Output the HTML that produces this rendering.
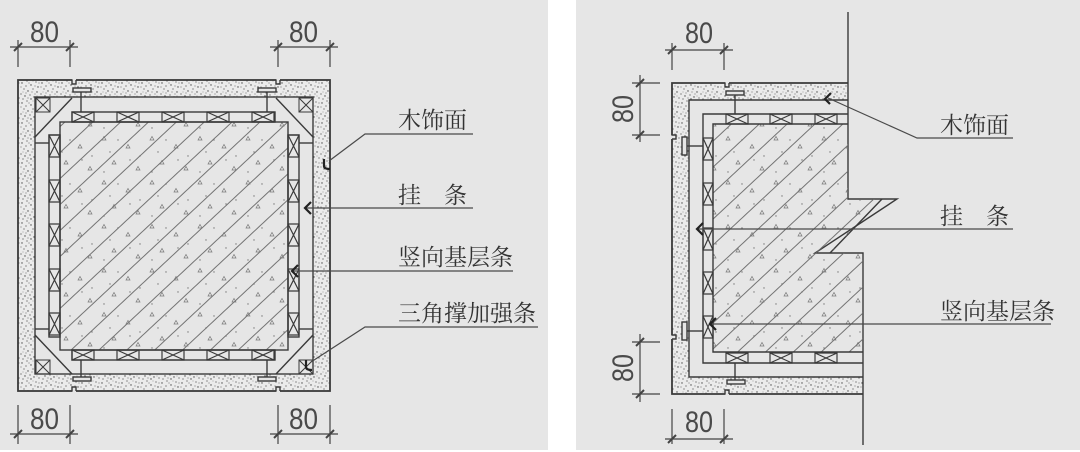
<!DOCTYPE html>
<html>
<head>
<meta charset="utf-8">
<style>
html,body{margin:0;padding:0;background:#fff;}
svg{display:block;}
.lab{font-family:"Liberation Serif","Noto Serif CJK SC",serif;font-size:23px;fill:#333;}
.num{font-family:"Liberation Sans",sans-serif;font-size:30px;fill:#4a4a4a;}
</style>
</head>
<body>
<svg width="1080" height="452" viewBox="0 0 1080 452" xmlns="http://www.w3.org/2000/svg">
<defs>
  <pattern id="st" width="20" height="20" patternUnits="userSpaceOnUse">
    <rect width="20" height="20" fill="#ebebeb"/>
    <g fill="#4a4a4a">
      <circle cx="2" cy="3" r="0.7"/><circle cx="7" cy="1" r="0.6"/><circle cx="11" cy="5" r="0.7"/>
      <circle cx="16" cy="2" r="0.6"/><circle cx="18" cy="7" r="0.7"/><circle cx="4" cy="9" r="0.6"/>
      <circle cx="8" cy="11" r="0.7"/><circle cx="13" cy="9" r="0.6"/><circle cx="17" cy="12" r="0.7"/>
      <circle cx="1" cy="14" r="0.6"/><circle cx="5" cy="16" r="0.7"/><circle cx="10" cy="15" r="0.6"/>
      <circle cx="14" cy="17" r="0.7"/><circle cx="19" cy="18" r="0.6"/><circle cx="3" cy="19" r="0.6"/>
      <circle cx="11" cy="19" r="0.7"/><circle cx="15" cy="6" r="0.5"/><circle cx="6" cy="6" r="0.6"/>
      <circle cx="12" cy="12" r="0.5"/><circle cx="8" cy="18" r="0.5"/><circle cx="1" cy="7" r="0.5"/>
      <circle cx="19" cy="3" r="0.5"/><circle cx="6" cy="13" r="0.5"/><circle cx="15" cy="14" r="0.5"/>
      <circle cx="17" cy="16" r="0.4"/><circle cx="9" cy="3" r="0.5"/><circle cx="3" cy="12" r="0.4"/>
      <circle cx="13" cy="1" r="0.4"/>
    </g>
  </pattern>
  <pattern id="hl" width="19" height="19" patternUnits="userSpaceOnUse" patternTransform="rotate(47)">
    <line x1="0.5" y1="0" x2="0.5" y2="19" stroke="#666" stroke-width="0.9"/>
  </pattern>
  <pattern id="tri" width="48" height="44" patternUnits="userSpaceOnUse">
    <g fill="none" stroke="#777" stroke-width="0.7">
      <path d="M6,8 l2,-3.5 l2,3.5z"/><path d="M30,16 l2,-3.5 l2,3.5z"/>
      <path d="M16,32 l2,-3.5 l2,3.5z"/><path d="M40,38 l2,-3.5 l2,3.5z"/>
    </g>
    <g fill="#777">
      <circle cx="22" cy="8" r="0.7"/><circle cx="44" cy="24" r="0.7"/><circle cx="8" cy="40" r="0.7"/>
      <circle cx="34" cy="28" r="0.7"/><circle cx="14" cy="20" r="0.7"/>
    </g>
  </pattern>
</defs>

<!-- panels -->
<rect x="0" y="0" width="548" height="450" fill="#e6e6e6"/>
<rect x="576" y="0" width="504" height="450" fill="#e6e6e6"/>

<!-- ================= LEFT FIGURE ================= -->
<g stroke="#3a3a3a" stroke-width="1.4" fill="none">
  <path d="M18,80 H330 V391 H18 Z M35,97 V374 H313 V97 Z" fill="url(#st)" fill-rule="evenodd" stroke="none"/>
  <rect x="18" y="80" width="312" height="311" stroke-width="1.8"/>
  <rect x="35" y="97" width="278" height="277"/>
  <rect x="72.5" y="78" width="3.5" height="5" fill="#e6e6e6" stroke="none"/>
  <path d="M72,80 V84 H76 V80"/>
  <rect x="276.5" y="78" width="3.5" height="5" fill="#e6e6e6" stroke="none"/>
  <path d="M276,80 V84 H280 V80"/>
  <rect x="72.5" y="388" width="3.5" height="5" fill="#e6e6e6" stroke="none"/>
  <path d="M72,391 V387 H76 V391"/>
  <rect x="276.5" y="388" width="3.5" height="5" fill="#e6e6e6" stroke="none"/>
  <path d="M276,391 V387 H280 V391"/>
  <rect x="73" y="88" width="18" height="4" fill="#e6e6e6"/>
  <line x1="81" y1="92" x2="81" y2="112"/>
  <rect x="258" y="88" width="18" height="4" fill="#e6e6e6"/>
  <line x1="267" y1="92" x2="267" y2="112"/>
  <rect x="73" y="377" width="18" height="4" fill="#e6e6e6"/>
  <line x1="81" y1="360" x2="81" y2="377"/>
  <rect x="258" y="377" width="18" height="4" fill="#e6e6e6"/>
  <line x1="267" y1="360" x2="267" y2="377"/>
  <line x1="72" y1="98" x2="35" y2="137"/>
  <line x1="35" y1="143" x2="49" y2="143"/>
  <line x1="276" y1="98" x2="313" y2="137"/>
  <line x1="299" y1="143" x2="313" y2="143"/>
  <line x1="35" y1="335" x2="72" y2="374"/>
  <line x1="35" y1="329" x2="49" y2="329"/>
  <line x1="313" y1="335" x2="276" y2="374"/>
  <line x1="299" y1="329" x2="313" y2="329"/>
  <g stroke-width="1">
    <rect x="36" y="98" width="14" height="14"/><path d="M36,98 L50,112 M50,98 L36,112"/>
    <rect x="299" y="98" width="14" height="14"/><path d="M299,98 L313,112 M313,98 L299,112"/>
    <rect x="36" y="360" width="14" height="14"/><path d="M36,360 L50,374 M50,360 L36,374"/>
    <rect x="299" y="360" width="14" height="14"/><path d="M299,360 L313,374 M313,360 L299,374"/>
  </g>
  <rect x="60" y="122" width="228" height="228" fill="url(#hl)" stroke="none"/>
  <rect x="60" y="122" width="228" height="228" fill="url(#tri)" stroke="none"/>
  <rect x="60" y="122" width="228" height="228"/>
  <rect x="72" y="112" width="203" height="10"/>
  <rect x="72" y="350" width="203" height="10"/>
  <rect x="49" y="135" width="11" height="202"/>
  <rect x="288" y="135" width="11" height="202"/>
  <g stroke-width="1.2">
    <path d="M72,112 h22 v10 h-22z M72,112 l22,10 M94,112 l-22,10"/>
    <path d="M117,112 h22 v10 h-22z M117,112 l22,10 M139,112 l-22,10"/>
    <path d="M162,112 h22 v10 h-22z M162,112 l22,10 M184,112 l-22,10"/>
    <path d="M207,112 h22 v10 h-22z M207,112 l22,10 M229,112 l-22,10"/>
    <path d="M252,112 h22 v10 h-22z M252,112 l22,10 M274,112 l-22,10"/>
    <path d="M72,350 h22 v10 h-22z M72,350 l22,10 M94,350 l-22,10"/>
    <path d="M117,350 h22 v10 h-22z M117,350 l22,10 M139,350 l-22,10"/>
    <path d="M162,350 h22 v10 h-22z M162,350 l22,10 M184,350 l-22,10"/>
    <path d="M207,350 h22 v10 h-22z M207,350 l22,10 M229,350 l-22,10"/>
    <path d="M252,350 h22 v10 h-22z M252,350 l22,10 M274,350 l-22,10"/>
    <path d="M49,135 h11 v22 h-11z M49,135 l11,22 M60,135 l-11,22"/>
    <path d="M49,180 h11 v22 h-11z M49,180 l11,22 M60,180 l-11,22"/>
    <path d="M49,224 h11 v22 h-11z M49,224 l11,22 M60,224 l-11,22"/>
    <path d="M49,269 h11 v22 h-11z M49,269 l11,22 M60,269 l-11,22"/>
    <path d="M49,313 h11 v22 h-11z M49,313 l11,22 M60,313 l-11,22"/>
    <path d="M288,135 h11 v22 h-11z M288,135 l11,22 M299,135 l-11,22"/>
    <path d="M288,180 h11 v22 h-11z M288,180 l11,22 M299,180 l-11,22"/>
    <path d="M288,224 h11 v22 h-11z M288,224 l11,22 M299,224 l-11,22"/>
    <path d="M288,269 h11 v22 h-11z M288,269 l11,22 M299,269 l-11,22"/>
    <path d="M288,313 h11 v22 h-11z M288,313 l11,22 M299,313 l-11,22"/>
  </g>
</g>

<!-- left dimensions -->
<g stroke="#444" stroke-width="1.2" fill="none">
  <line x1="10" y1="47" x2="78" y2="47"/>
  <line x1="18" y1="40" x2="18" y2="67"/><line x1="70" y1="40" x2="70" y2="67"/>
  <line x1="270" y1="47" x2="338" y2="47"/>
  <line x1="278" y1="40" x2="278" y2="67"/><line x1="330" y1="40" x2="330" y2="67"/>
  <line x1="10" y1="434" x2="78" y2="434"/>
  <line x1="18" y1="405" x2="18" y2="444"/><line x1="70" y1="405" x2="70" y2="444"/>
  <line x1="270" y1="434" x2="338" y2="434"/>
  <line x1="278" y1="405" x2="278" y2="444"/><line x1="330" y1="405" x2="330" y2="444"/>
  <g stroke-width="2">
    <path d="M14,51 L22,43 M66,51 L74,43 M274,51 L282,43 M326,51 L334,43"/>
    <path d="M14,438 L22,430 M66,438 L74,430 M274,438 L282,430 M326,438 L334,430"/>
  </g>
</g>
<text class="num" x="30" y="42" textLength="29" lengthAdjust="spacingAndGlyphs">80</text>
<text class="num" x="289" y="42" textLength="29" lengthAdjust="spacingAndGlyphs">80</text>
<text class="num" x="30" y="429" textLength="29" lengthAdjust="spacingAndGlyphs">80</text>
<text class="num" x="289" y="429" textLength="29" lengthAdjust="spacingAndGlyphs">80</text>

<!-- left labels -->
<g stroke="#4a4a4a" stroke-width="1.2" fill="none">
  <path d="M473,134 H365 L329,161"/>
  <path d="M473,208 H306"/>
  <path d="M513,271 H293"/>
  <path d="M538,327 H365 L311,362"/>
</g>
<g stroke="#222" stroke-width="2.2" fill="none">
  <path d="M324,159 V166 Q324,169 330,169"/>
  <path d="M311,202 L305,208 L311,214"/>
  <path d="M298,265 L292,271 L298,277"/>
  <path d="M306,360 V367 Q306,370 312,370"/>
</g>
<text class="lab" x="398" y="128">木饰面</text>
<text class="lab" x="398" y="203">挂　条</text>
<text class="lab" x="398" y="265">竖向基层条</text>
<text class="lab" x="398" y="321">三角撑加强条</text>

<!-- ================= RIGHT FIGURE ================= -->
<g stroke="#3a3a3a" stroke-width="1.4" fill="none">
  <path d="M672,83 H848 V100 H689 V377 H863 V394 H672 Z" fill="url(#st)" stroke="none"/>
  <path d="M848,83 H672 V394 H863" stroke-width="1.8"/>
  <path d="M848,100 H689 V377 H863"/>
  <path d="M848,12 V199 H897 L815,253 H863 V445"/>
  <line x1="882" y1="199" x2="830" y2="253"/>
  <path d="M713,124 H848 V199 H882 L830,253 H863 V352 H713 Z" fill="url(#hl)" stroke="none"/>
  <path d="M713,124 H848 V199 H882 L830,253 H863 V352 H713 Z" fill="url(#tri)" stroke="none"/>
  <path d="M848,124 H713 V352 H863"/>
  <path d="M848,114 H703 V363 H863"/>
  <rect x="725.5" y="81" width="3.5" height="5" fill="#e6e6e6" stroke="none"/>
  <path d="M725,83 V87 H729 V83"/>
  <rect x="670" y="135.5" width="5" height="3.5" fill="#e6e6e6" stroke="none"/>
  <path d="M672,135 H676 V139 H672"/>
  <rect x="670" y="335.5" width="5" height="3.5" fill="#e6e6e6" stroke="none"/>
  <path d="M672,335 H676 V339 H672"/>
  <rect x="725.5" y="391" width="3.5" height="5" fill="#e6e6e6" stroke="none"/>
  <path d="M725,394 V390 H729 V394"/>
  <rect x="726" y="91" width="18" height="4" fill="#e6e6e6"/>
  <line x1="735" y1="95" x2="735" y2="114"/>
  <rect x="682" y="137" width="5" height="18" fill="#e6e6e6"/>
  <line x1="687" y1="146" x2="703" y2="146"/>
  <rect x="682" y="322" width="5" height="18" fill="#e6e6e6"/>
  <line x1="687" y1="331" x2="703" y2="331"/>
  <rect x="727" y="380" width="18" height="4" fill="#e6e6e6"/>
  <line x1="735" y1="363" x2="735" y2="380"/>
  <g stroke-width="1.2">
    <path d="M726,114 h22 v10 h-22z M726,114 l22,10 M748,114 l-22,10"/>
    <path d="M770,114 h22 v10 h-22z M770,114 l22,10 M792,114 l-22,10"/>
    <path d="M815,114 h22 v10 h-22z M815,114 l22,10 M837,114 l-22,10"/>
    <path d="M726,353 h22 v10 h-22z M726,353 l22,10 M748,353 l-22,10"/>
    <path d="M770,353 h22 v10 h-22z M770,353 l22,10 M792,353 l-22,10"/>
    <path d="M815,353 h22 v10 h-22z M815,353 l22,10 M837,353 l-22,10"/>
    <path d="M703,138 h10 v22 h-10z M703,138 l10,22 M713,138 l-10,22"/>
    <path d="M703,183 h10 v22 h-10z M703,183 l10,22 M713,183 l-10,22"/>
    <path d="M703,228 h10 v22 h-10z M703,228 l10,22 M713,228 l-10,22"/>
    <path d="M703,272 h10 v22 h-10z M703,272 l10,22 M713,272 l-10,22"/>
    <path d="M703,316 h10 v22 h-10z M703,316 l10,22 M713,316 l-10,22"/>
  </g>
</g>

<!-- right dimensions -->
<g stroke="#444" stroke-width="1.2" fill="none">
  <line x1="665" y1="50" x2="733" y2="50"/>
  <line x1="672" y1="43" x2="672" y2="70"/><line x1="724" y1="43" x2="724" y2="70"/>
  <line x1="665" y1="439" x2="733" y2="439"/>
  <line x1="672" y1="409" x2="672" y2="444"/><line x1="724" y1="409" x2="724" y2="444"/>
  <line x1="640" y1="75" x2="640" y2="142"/>
  <line x1="632" y1="83" x2="660" y2="83"/><line x1="632" y1="135" x2="660" y2="135"/>
  <line x1="640" y1="334" x2="640" y2="402"/>
  <line x1="632" y1="342" x2="660" y2="342"/><line x1="632" y1="394" x2="660" y2="394"/>
  <g stroke-width="2">
    <path d="M668,54 L676,46 M720,54 L728,46"/>
    <path d="M668,443 L676,435 M720,443 L728,435"/>
    <path d="M636,87 L644,79 M636,139 L644,131"/>
    <path d="M636,346 L644,338 M636,398 L644,390"/>
  </g>
</g>
<text class="num" x="685" y="43" textLength="28" lengthAdjust="spacingAndGlyphs">80</text>
<text class="num" x="685" y="432" textLength="28" lengthAdjust="spacingAndGlyphs">80</text>
<text class="num" transform="translate(633,123) rotate(-90)" textLength="28" lengthAdjust="spacingAndGlyphs">80</text>
<text class="num" transform="translate(633,382) rotate(-90)" textLength="28" lengthAdjust="spacingAndGlyphs">80</text>

<!-- right labels -->
<g stroke="#4a4a4a" stroke-width="1.2" fill="none">
  <path d="M1013,138 H917 L828,98"/>
  <path d="M1013,229 H698"/>
  <path d="M1051,324 H711"/>
</g>
<g stroke="#222" stroke-width="2.2" fill="none">
  <path d="M831,93 L825,99 L830,104"/>
  <path d="M703,223 L697,229 L703,235"/>
  <path d="M716,318 L710,324 L716,330"/>
</g>
<text class="lab" x="940" y="133">木饰面</text>
<text class="lab" x="940" y="224">挂　条</text>
<text class="lab" x="940" y="319">竖向基层条</text>
</svg>
</body>
</html>
